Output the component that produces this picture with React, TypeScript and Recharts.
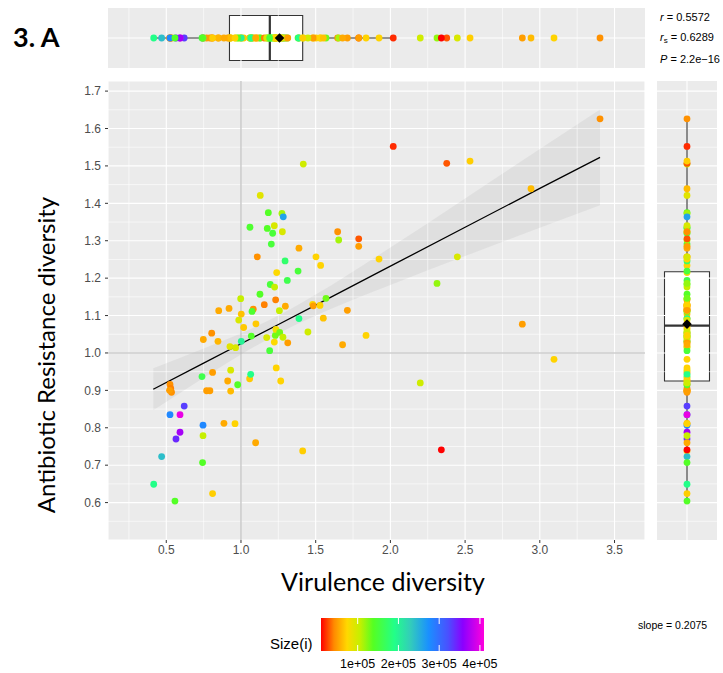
import React from 'react';
import {
  ComposedChart,
  Scatter,
  Line,
  Area,
  XAxis,
  YAxis,
  CartesianGrid,
  ReferenceLine,
  ReferenceArea,
  Cell,
} from 'recharts';

// ---------- data ----------
const virulence = [
  1.417, 1.129, 1.183, 1.274, 1.283, 1.06, 1.176, 1.223, 1.212, 1.277,
  1.203, 1.109, 1.388, 1.647, 1.654, 1.502, 1.533, 1.295, 1.239, 1.382,
  1.31, 1.196, 1.225, 1.127, 1.232, 1.156, 0.998, 0.851, 0.92, 1.002,
  1.082, 1.074, 1.257, 1.297, 1.48, 1.484, 1.529, 1.569, 1.712, 1.551,
  1.388, 1.788, 1.788, 3.403, 2.019, 2.377, 2.533, 2.941, 1.924, 2.448,
  2.312, 0.985, 1.018, 1.1, 0.804, 0.748, 0.846, 0.926, 0.964, 1.002,
  1.069, 1.172, 1.23, 1.223, 1.234, 1.259, 1.281, 1.313, 1.192, 1.448,
  1.68, 0.525, 0.53, 0.535, 0.522, 0.739, 0.81, 0.931, 0.911, 0.931,
  0.77, 0.792, 0.978, 1.058, 1.065, 1.236, 1.266, 0.62, 0.525, 0.592,
  0.592, 0.565, 0.746, 0.886, 0.96, 0.746, 1.098, 1.413, 0.469, 0.743,
  0.416, 0.558, 0.81, 1.837, 2.883, 3.095, 2.2, 2.341,
];
const resistance = [
  1.505, 1.421, 1.375, 1.373, 1.364, 1.336, 1.333, 1.34, 1.32, 1.324,
  1.291, 1.257, 1.28, 1.324, 1.302, 1.257, 1.234, 1.246, 1.215, 1.219,
  1.194, 1.183, 1.176, 1.157, 1.142, 1.129, 1.145, 1.113, 1.119, 1.104,
  1.117, 1.111, 1.113, 1.125, 1.13, 1.126, 1.127, 1.146, 1.114, 1.093,
  1.092, 1.305, 1.285, 1.626, 1.552, 1.507, 1.513, 1.439, 1.251, 1.257,
  1.186, 1.088, 1.068, 1.078, 1.053, 1.036, 1.031, 1.017, 1.014, 1.031,
  1.045, 1.041, 1.047, 1.029, 1.063, 1.055, 1.042, 1.027, 1.006, 1.056,
  1.022, 0.916, 0.905, 0.895, 0.9, 0.937, 0.948, 0.954, 0.925, 0.898,
  0.899, 0.899, 0.915, 0.931, 0.943, 0.96, 0.925, 0.858, 0.835, 0.835,
  0.788, 0.77, 0.807, 0.812, 0.811, 0.779, 0.76, 0.738, 0.723, 0.707,
  0.649, 0.604, 0.624, 1.047, 1.077, 0.983, 0.92, 0.741,
];
// Size(i), in units of 1e+05
const sizeI = [
  1.0, 0.9, 1.4, 1.15, 2.6, 1.45, 1.4, 0.95, 1.5, 0.95,
  1.5, 0.45, 0.55, 0.45, 1.15, 0.72, 0.72, 1.75, 0.75, 1.5,
  1.6, 1.5, 1.05, 1.4, 0.4, 0.4, 1.05, 0.55, 0.55, 0.65,
  0.45, 1.45, 1.05, 0.55, 0.75, 0.5, 0.72, 1.3, 0.5, 0.65,
  1.9, 0.3, 0.5, 0.45, 0.2, 0.3, 0.7, 0.62, 0.72, 0.95,
  1.2, 0.95, 0.68, 0.68, 0.45, 0.55, 0.6, 0.9, 0.95, 2.0,
  1.4, 0.95, 1.3, 0.75, 0.8, 1.3, 1.05, 0.5, 1.5, 1.0,
  0.55, 0.45, 0.4, 0.45, 0.5, 1.6, 0.5, 0.95, 0.55, 0.62,
  0.5, 0.5, 1.4, 0.68, 1.9, 0.72, 0.72, 3.3, 2.8, 4.0,
  3.7, 3.4, 2.8, 0.55, 0.72, 1.05, 0.55, 0.7, 2.4, 1.4,
  1.9, 1.4, 0.7, 0.72, 0.5, 0.72, 1.0, 0.1,
];

// regression fit and its confidence band, read at several x positions
const fitX = [0.413, 0.75, 1.0, 1.26, 1.5, 2.0, 2.5, 3.0, 3.403];
const fitY = [0.903, 0.973, 1.0245, 1.078, 1.128, 1.232, 1.336, 1.44, 1.523];
const bandLow = [0.847, 0.934, 0.996, 1.054, 1.1, 1.182, 1.259, 1.335, 1.395];
const bandHigh = [0.959, 1.012, 1.053, 1.102, 1.156, 1.282, 1.413, 1.545, 1.651];

// boxplot stats: [whiskerLow, q1, median, q3, whiskerHigh, mean]
const xBoxStats = [0.416, 0.923, 1.193, 1.413, 2.019, 1.258];
const yBoxStats = [0.604, 0.925, 1.073, 1.217, 1.626, 1.077];

const xTicks = [0.5, 1, 1.5, 2, 2.5, 3, 3.5];
const xMinorTicks = [0.25, 0.75, 1.25, 1.75, 2.25, 2.75, 3.25];
const yTicks = [0.6, 0.7, 0.8, 0.9, 1.0, 1.1, 1.2, 1.3, 1.4, 1.5, 1.6, 1.7];
const yMinorTicks = [0.55, 0.65, 0.75, 0.85, 0.95, 1.05, 1.15, 1.25, 1.35, 1.45, 1.55, 1.65];
const xDomain = [0.11, 3.704];
const yDomain = [0.5, 1.727];

const sizeRange = [0.1, 4.1];
const legendTicks = [1, 2, 3, 4];
const legendTickLabels = ['1e+05', '2e+05', '3e+05', '4e+05'];

const statR = '0.5572';
const statRs = '0.6289';
const statP = '2.2e\u221216';
const statSlope = '0.2075';

// ---------- colour scale ----------
const colorStops: [number, string][] = [
  [0.0, '#ff0000'],
  [0.08, '#ff8a00'],
  [0.16, '#ffd800'],
  [0.24, '#c4f000'],
  [0.32, '#55ff22'],
  [0.45, '#22ff88'],
  [0.55, '#33ccbb'],
  [0.66, '#1a90ff'],
  [0.78, '#4a50ff'],
  [0.87, '#8a00ff'],
  [1.0, '#ff00dd'],
];
const hexRgb = (h: string) => [
  parseInt(h.slice(1, 3), 16),
  parseInt(h.slice(3, 5), 16),
  parseInt(h.slice(5, 7), 16),
];
function sizeColor(s: number): string {
  let f = (s - sizeRange[0]) / (sizeRange[1] - sizeRange[0]);
  f = Math.max(0, Math.min(1, f));
  for (let i = 0; i < colorStops.length - 1; i++) {
    const [o0, c0] = colorStops[i];
    const [o1, c1] = colorStops[i + 1];
    if (f >= o0 && f <= o1) {
      const t = (f - o0) / (o1 - o0);
      const a = hexRgb(c0);
      const b = hexRgb(c1);
      const c = a.map((v, k) => Math.round(v + (b[k] - v) * t));
      return `rgb(${c[0]},${c[1]},${c[2]})`;
    }
  }
  return colorStops[colorStops.length - 1][1];
}

const points = virulence.map((x, i) => ({ x, y: resistance[i], color: sizeColor(sizeI[i]) }));
const bandRows = fitX.map((x, i) => ({ x, fit: fitY[i], band: [bandLow[i], bandHigh[i]] }));
const topPoints = virulence.map((x, i) => ({ x, y: 0.5, color: sizeColor(sizeI[i]) }));
const rightPoints = resistance.map((y, i) => ({ x: 0.5, y, color: sizeColor(sizeI[i]) }));
const topMean = [{ x: xBoxStats[5], y: 0.5 }];
const rightMean = [{ x: 0.5, y: yBoxStats[5] }];

// ---------- shapes ----------
const Dot = (p: any) => <circle cx={p.cx} cy={p.cy} r={3.4} fill={p.fill} />;
const Diamond = (p: any) => {
  const r = 4.8;
  return (
    <polygon
      points={`${p.cx},${p.cy - r} ${p.cx + r},${p.cy} ${p.cx},${p.cy + r} ${p.cx - r},${p.cy}`}
      fill="#000"
    />
  );
};

const PANEL = '#ebebeb';
const GRID = '#ffffff';
const BOXLINE = '#333333';
const tickFont = { fill: '#4d4d4d', fontSize: 12, fontFamily: 'Liberation Sans, Arial, sans-serif' };
const BOX_LO = 0.125;
const BOX_HI = 0.875;

export default function App() {
  const legX = 321;
  const legW = 163;
  const legY = 618;
  const legH = 33;
  const legPos = (v: number) => legX + ((v - sizeRange[0]) / (sizeRange[1] - sizeRange[0])) * legW;

  return (
    <div style={{ position: 'relative', width: 723, height: 673, background: '#fff', overflow: 'hidden' }}>
      <style>{'body{margin:0}'}</style>

      {/* top marginal */}
      <div style={{ position: 'absolute', left: 0, top: 0 }}>
        <ComposedChart width={660} height={70} margin={{ top: 8, right: 15, left: 108, bottom: 2 }} data={topPoints}>
          <XAxis type="number" dataKey="x" domain={xDomain} allowDataOverflow hide />
          <YAxis type="number" dataKey="y" domain={[0, 1]} allowDataOverflow hide />
          <CartesianGrid fill={PANEL} horizontal={false} vertical={false} />
          {xMinorTicks.map((v) => (
            <ReferenceLine key={'tm' + v} x={v} stroke={GRID} strokeWidth={0.6} />
          ))}
          {xTicks.map((v) => (
            <ReferenceLine key={'tM' + v} x={v} stroke={GRID} strokeWidth={1.1} />
          ))}
          <ReferenceLine y={0.5} stroke={GRID} strokeWidth={1.1} />
          <ReferenceLine segment={[{ x: xBoxStats[0], y: 0.5 }, { x: xBoxStats[1], y: 0.5 }]} stroke={BOXLINE} strokeWidth={1.1} />
          <ReferenceLine segment={[{ x: xBoxStats[3], y: 0.5 }, { x: xBoxStats[4], y: 0.5 }]} stroke={BOXLINE} strokeWidth={1.1} />
          <ReferenceArea x1={xBoxStats[1]} x2={xBoxStats[3]} y1={BOX_LO} y2={BOX_HI} fill="#fff" fillOpacity={1} stroke={BOXLINE} strokeWidth={1.1} />
          <ReferenceLine segment={[{ x: xBoxStats[2], y: BOX_LO }, { x: xBoxStats[2], y: BOX_HI }]} stroke={BOXLINE} strokeWidth={2.2} />
          <Scatter data={topPoints} shape={Dot} isAnimationActive={false}>
            {topPoints.map((p, i) => (
              <Cell key={i} fill={p.color} />
            ))}
          </Scatter>
          <Scatter data={topMean} shape={Diamond} isAnimationActive={false} />
        </ComposedChart>
      </div>

      {/* main scatter */}
      <div style={{ position: 'absolute', left: 0, top: 70 }}>
        <ComposedChart width={660} height={500} margin={{ top: 11, right: 15, left: 68, bottom: 0 }} data={bandRows}>
          <XAxis
            type="number"
            dataKey="x"
            domain={xDomain}
            allowDataOverflow
            ticks={xTicks}
            interval={0}
            tickFormatter={(v: number) => v.toFixed(1)}
            tick={tickFont}
            tickLine={{ stroke: '#333' }}
            tickSize={3}
            axisLine={false}
            height={30}
          />
          <YAxis
            type="number"
            dataKey="y"
            domain={yDomain}
            allowDataOverflow
            ticks={yTicks}
            interval={0}
            tickFormatter={(v: number) => v.toFixed(1)}
            tick={tickFont}
            tickLine={{ stroke: '#333' }}
            tickSize={3}
            tickMargin={4}
            axisLine={false}
            width={40}
          />
          <CartesianGrid fill={PANEL} stroke={GRID} strokeWidth={1.1} />
          {xMinorTicks.map((v) => (
            <ReferenceLine key={'xm' + v} x={v} stroke={GRID} strokeWidth={0.6} />
          ))}
          {yMinorTicks.map((v) => (
            <ReferenceLine key={'ym' + v} y={v} stroke={GRID} strokeWidth={0.6} />
          ))}
          <ReferenceLine x={1} stroke="#b8b8b8" strokeWidth={1.1} />
          <ReferenceLine y={1} stroke="#b8b8b8" strokeWidth={1.1} />
          <Area
            type="monotone"
            dataKey="band"
            stroke="none"
            fill="#999999"
            fillOpacity={0.14}
            isAnimationActive={false}
            activeDot={false}
          />
          <Line type="linear" dataKey="fit" stroke="#000" strokeWidth={1.3} dot={false} activeDot={false} isAnimationActive={false} />
          <Scatter data={points} shape={Dot} isAnimationActive={false}>
            {points.map((p, i) => (
              <Cell key={i} fill={p.color} />
            ))}
          </Scatter>
        </ComposedChart>
      </div>

      {/* right marginal */}
      <div style={{ position: 'absolute', left: 640, top: 70 }}>
        <ComposedChart width={83} height={500} margin={{ top: 11, right: 6, left: 17, bottom: 30 }} data={rightPoints}>
          <XAxis type="number" dataKey="x" domain={[0, 1]} allowDataOverflow hide />
          <YAxis type="number" dataKey="y" domain={yDomain} allowDataOverflow hide />
          <CartesianGrid fill={PANEL} horizontal={false} vertical={false} />
          {yMinorTicks.map((v) => (
            <ReferenceLine key={'rm' + v} y={v} stroke={GRID} strokeWidth={0.6} />
          ))}
          {yTicks.map((v) => (
            <ReferenceLine key={'rM' + v} y={v} stroke={GRID} strokeWidth={1.1} />
          ))}
          <ReferenceLine x={0.5} stroke={GRID} strokeWidth={1.1} />
          <ReferenceLine segment={[{ x: 0.5, y: yBoxStats[0] }, { x: 0.5, y: yBoxStats[1] }]} stroke={BOXLINE} strokeWidth={1.1} />
          <ReferenceLine segment={[{ x: 0.5, y: yBoxStats[3] }, { x: 0.5, y: yBoxStats[4] }]} stroke={BOXLINE} strokeWidth={1.1} />
          <ReferenceArea x1={BOX_LO} x2={BOX_HI} y1={yBoxStats[1]} y2={yBoxStats[3]} fill="#fff" fillOpacity={1} stroke={BOXLINE} strokeWidth={1.1} />
          <ReferenceLine segment={[{ x: BOX_LO, y: yBoxStats[2] }, { x: BOX_HI, y: yBoxStats[2] }]} stroke={BOXLINE} strokeWidth={2.2} />
          <Scatter data={rightPoints} shape={Dot} isAnimationActive={false}>
            {rightPoints.map((p, i) => (
              <Cell key={i} fill={p.color} />
            ))}
          </Scatter>
          <Scatter data={rightMean} shape={Diamond} isAnimationActive={false} />
        </ComposedChart>
      </div>

      {/* texts and legend */}
      <svg width={723} height={673} style={{ position: 'absolute', left: 0, top: 0, pointerEvents: 'none' }}>
        <defs>
          <linearGradient id="sizeGrad" x1="0" x2="1" y1="0" y2="0">
            {colorStops.map(([o, c]) => (
              <stop key={o} offset={o} stopColor={c} />
            ))}
          </linearGradient>
        </defs>
        <text x={13} y={47} fontFamily="Lato, sans-serif" fontWeight={700} fontSize={27} fill="#000">
          3. A
        </text>

        <g fontFamily="Liberation Sans, Arial, sans-serif" fontSize={11} fill="#000">
          <text x={660} y={21}>
            <tspan fontStyle="italic">r</tspan> = {statR}
          </text>
          <text x={660} y={41}>
            <tspan fontStyle="italic">r</tspan>
            <tspan fontSize={8} dy={2}>s</tspan>
            <tspan dy={-2}> = {statRs}</tspan>
          </text>
          <text x={660} y={63}>
            <tspan fontStyle="italic">P</tspan> = {statP}
          </text>
          <text x={638} y={629} fontSize={10.5}>
            slope = {statSlope}
          </text>
        </g>

        <text
          x={0}
          y={0}
          transform="translate(55,355) rotate(-90)"
          textAnchor="middle"
          fontFamily="Lato, sans-serif"
          fontSize={24}
          fill="#000"
        >
          Antibiotic Resistance diversity
        </text>
        <text x={383} y={591} textAnchor="middle" fontFamily="Lato, sans-serif" fontSize={25} fill="#000">
          Virulence diversity
        </text>

        <text x={270} y={649} fontFamily="Liberation Sans, Arial, sans-serif" fontSize={15} fill="#000">
          Size(i)
        </text>
        <rect x={legX} y={legY} width={legW} height={legH} fill="url(#sizeGrad)" />
        {legendTicks.map((t) => (
          <g key={t}>
            <line x1={legPos(t)} x2={legPos(t)} y1={legY} y2={legY + 6} stroke="#fff" strokeWidth={1} />
            <line x1={legPos(t)} x2={legPos(t)} y1={legY + legH - 6} y2={legY + legH} stroke="#fff" strokeWidth={1} />
          </g>
        ))}
        {legendTicks.map((t, i) => (
          <text
            key={'l' + t}
            x={legPos(t)}
            y={668}
            textAnchor="middle"
            fontFamily="Liberation Sans, Arial, sans-serif"
            fontSize={12.5}
            fill="#000"
          >
            {legendTickLabels[i]}
          </text>
        ))}
      </svg>
    </div>
  );
}
